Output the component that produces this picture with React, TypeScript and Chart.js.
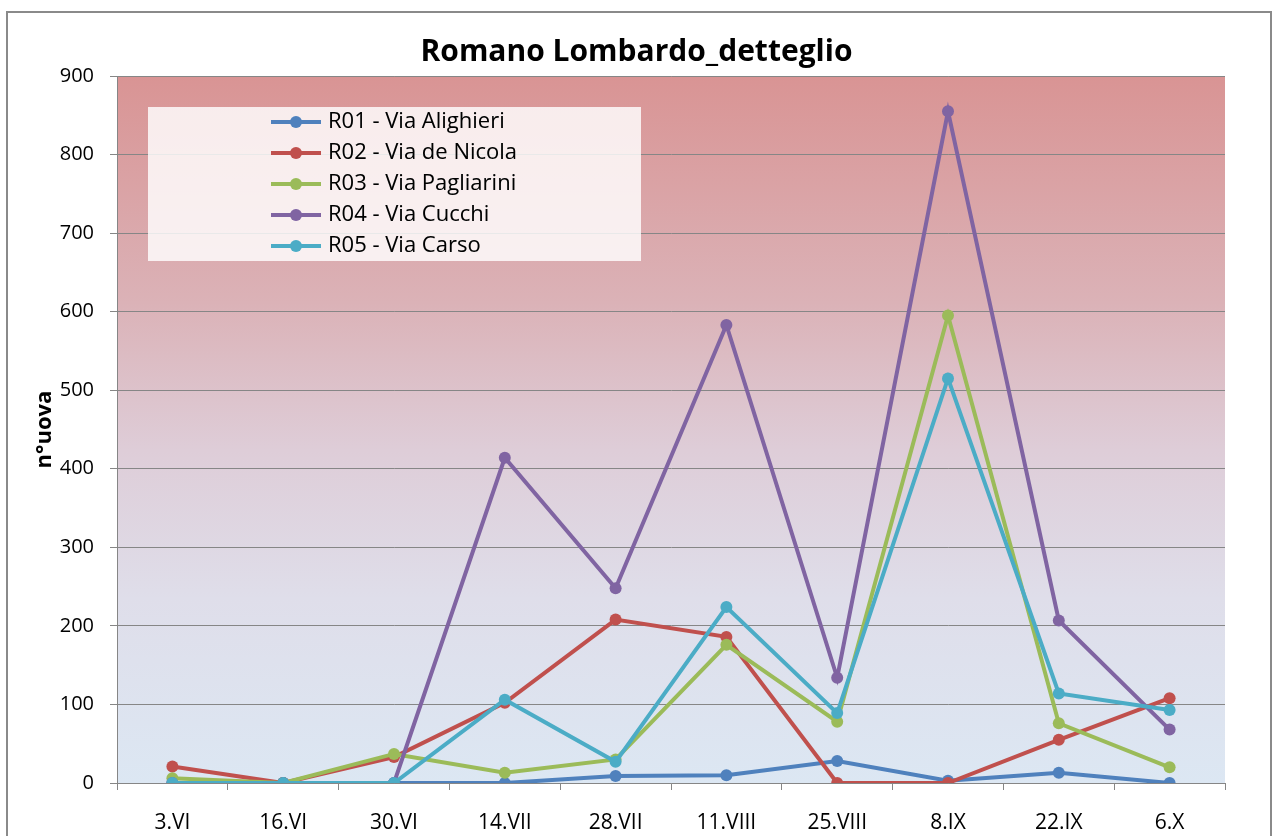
import React, { useEffect, useRef } from "react";
import { Chart, registerables } from "chart.js";

Chart.register(...registerables);

const categories = ["3.VI", "16.VI", "30.VI", "14.VII", "28.VII", "11.VIII", "25.VIII", "8.IX", "22.IX", "6.X"];
const seriesNames = ["R01 - Via Alighieri", "R02 - Via de Nicola", "R03 - Via Pagliarini", "R04 - Via Cucchi", "R05 - Via Carso"];
const r01 = [0, 0, 0, 0, 9, 10, 28, 3, 13, 0];
const r02 = [21, 0, 33, 102, 208, 186, 0, 0, 55, 108];
const r03 = [6, 0, 37, 13, 30, 176, 78, 595, 76, 20];
const r04 = [0, 0, 0, 414, 248, 583, 134, 855, 207, 68];
const r05 = [0, 0, 0, 106, 27, 224, 89, 515, 114, 93];
const seriesColors = ["#4F81BD", "#C0504D", "#9BBB59", "#8064A2", "#4BACC6"];
const yMin = 0;
const yMax = 900;
const yStep = 100;
const chartTitle = "Romano Lombardo_detteglio";
const yTitle = "n°uova";

function makeLegendIcon(color: string) {
  const c = document.createElement("canvas");
  c.width = 52;
  c.height = 14;
  const x = c.getContext("2d")!;
  x.strokeStyle = color;
  x.lineWidth = 4;
  x.beginPath();
  x.moveTo(1, 7);
  x.lineTo(51, 7);
  x.stroke();
  x.fillStyle = color;
  x.beginPath();
  x.arc(26, 7, 6, 0, Math.PI * 2);
  x.fill();
  return c;
}

const decorPlugin = {
  id: "decor",
  beforeDraw(chart: any) {
    const { ctx, chartArea: a } = chart;
    ctx.save();
    ctx.strokeStyle = "#8a8a8a";
    ctx.lineWidth = 2;
    ctx.strokeRect(7, 12, chart.width - 9, chart.height + 10);
    const g = ctx.createLinearGradient(0, a.top, 0, a.bottom);
    g.addColorStop(0, "rgb(217,148,148)");
    g.addColorStop(0.32, "rgb(219,178,183)");
    g.addColorStop(0.53, "rgb(222,205,216)");
    g.addColorStop(0.74, "rgb(223,222,234)");
    g.addColorStop(1, "rgb(220,231,243)");
    ctx.fillStyle = g;
    ctx.fillRect(a.left, a.top, a.right - a.left, a.bottom - a.top);
    ctx.restore();
  },
  afterLayout(chart: any) {
    const lg = chart.legend;
    const a = chart.chartArea;
    if (lg) {
      lg.left = a.left + 149;
      lg.top = a.top + 26;
    }
  },
  beforeDatasetsDraw(chart: any) {
    const { ctx, chartArea: a } = chart;
    ctx.save();
    ctx.fillStyle = "rgba(255,255,255,0.82)";
    ctx.fillRect(a.left + 31, a.top + 31, 493, 154);
    ctx.restore();
    if (chart.legend) chart.legend.draw();
  },
};

export default function App() {
  const ref = useRef<HTMLCanvasElement>(null);
  useEffect(() => {
    if (!ref.current) return;
    Chart.defaults.font.family = "'Open Sans', sans-serif";
    const allData = [r01, r02, r03, r04, r05];
    const icons = seriesColors.map(makeLegendIcon);
    const chart = new Chart(ref.current, {
      type: "line",
      data: {
        labels: categories,
        datasets: allData.map((d, i) => ({
          label: seriesNames[i],
          data: d,
          borderColor: seriesColors[i],
          backgroundColor: seriesColors[i],
          pointBackgroundColor: seriesColors[i],
          pointBorderColor: seriesColors[i],
          pointBorderWidth: 0,
          pointRadius: 6,
          borderWidth: 4,
          tension: 0,
          fill: false,
          order: allData.length - i,
          yAxisID: "y",
        })),
      },
      options: {
        animation: false,
        responsive: false,
        layout: { padding: { left: 0, right: 0, top: 0, bottom: 0 } },
        plugins: {
          tooltip: { enabled: false },
          title: {
            display: true,
            text: chartTitle,
            color: "#000",
            font: { size: 30, weight: "bold" },
            padding: { top: 34, bottom: 6 },
          },
          legend: {
            display: true,
            position: "chartArea" as any,
            align: "start",
            labels: {
              usePointStyle: true,
              pointStyleWidth: 42,
              padding: 9,
              color: "#000",
              font: { size: 22 },
              sort: (a: any, b: any) => a.datasetIndex - b.datasetIndex,
              generateLabels: (ch: any) => {
                const items = Chart.defaults.plugins.legend.labels.generateLabels(ch);
                return items.map((it: any) => ({ ...it, pointStyle: icons[it.datasetIndex] }));
              },
            },
          },
        },
        scales: {
          x: {
            offset: true,
            grid: {
              offset: true,
              drawOnChartArea: false,
              drawTicks: true,
              tickLength: 7,
              tickColor: "#868686",
            },
            border: { display: true, color: "#868686", width: 1 },
            ticks: { color: "#000", font: { size: 21 }, padding: 20, maxRotation: 0, autoSkip: false },
            afterFit: (s: any) => {
              s.height = 53;
            },
          },
          y: {
            min: yMin,
            max: yMax,
            grid: {
              color: "#868686",
              lineWidth: 1,
              drawTicks: true,
              tickLength: 7,
              tickColor: "#868686",
            },
            border: { display: true, color: "#868686", width: 1 },
            ticks: { stepSize: yStep, color: "#000", font: { size: 20 }, padding: 16 },
            title: {
              display: true,
              text: yTitle,
              color: "#000",
              font: { size: 22, weight: "bold" },
              padding: { top: 32, bottom: 0 },
            },
            afterFit: (s: any) => {
              s.width = 117;
            },
          },
          yRight: {
            position: "right",
            min: yMin,
            max: yMax,
            grid: { display: false, drawTicks: false },
            border: { display: false },
            ticks: { display: false },
            afterFit: (s: any) => {
              s.width = 48;
            },
          },
        },
      },
      plugins: [decorPlugin],
    });
    return () => chart.destroy();
  }, []);
  return (
    <div style={{ position: "absolute", left: 0, top: 0, width: 1273, height: 836, background: "#fff" }}>
      <canvas ref={ref} width={1273} height={836} style={{ display: "block" }} />
    </div>
  );
}
